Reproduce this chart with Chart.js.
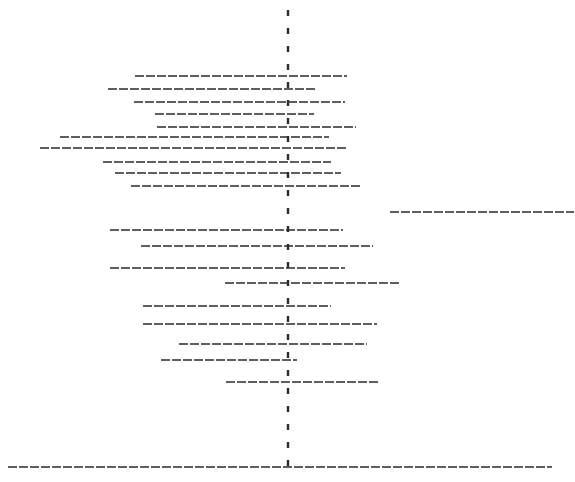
<!DOCTYPE html>
<html>
<head>
<meta charset="utf-8">
<script src="https://cdn.jsdelivr.net/npm/chart.js@4.4.1/dist/chart.umd.min.js"></script>
<style>
  html, body { margin: 0; padding: 0; background: #fff; }
  #wrap { width: 575px; height: 482px; position: relative; }
</style>
</head>
<body>
<div id="wrap"><canvas id="plot"></canvas></div>
<script>
// Row positions (top to bottom) and interval ends
const rowPos = [7.6, 8.9, 10.2, 11.4, 12.7, 13.7, 14.8, 16.2, 17.3, 18.6, 21.2, 23.0, 24.6, 26.8, 28.3, 30.6, 32.4, 34.4, 36.0, 38.2, 46.7];
const lowEnd = [-1.53, -1.80, -1.54, -1.33, -1.31, -2.28, -2.48, -1.85, -1.73, -1.57, 1.02, -1.78, -1.47, -1.78, -0.63, -1.45, -1.45, -1.09, -1.27, -0.62, -2.80];
const highEnd = [0.59, 0.28, 0.57, 0.26, 0.68, 0.41, 0.60, 0.43, 0.53, 0.72, 2.86, 0.55, 0.85, 0.57, 1.11, 0.43, 0.89, 0.79, 0.09, 0.92, 2.64];
const refValue = 0;
const refSpan = [1.0, 47.8];

(() => {
  "use strict";

  const INK = "#2b2b2b";

  const rows = rowPos.map((y, i) => ({
    data: [{ x: lowEnd[i], y }, { x: highEnd[i], y }],
    borderColor: INK,
    borderWidth: 1.7,
    borderDash: [9, 2],
    pointRadius: 0,
    showLine: true,
    fill: false,
  }));

  const refLine = {
    data: [{ x: refValue, y: refSpan[0] }, { x: refValue, y: refSpan[1] }],
    borderColor: INK,
    borderWidth: 2.4,
    borderDash: [6, 12],
    pointRadius: 0,
    showLine: true,
    fill: false,
  };

  new Chart(document.getElementById("plot"), {
    type: "scatter",
    data: { datasets: [refLine, ...rows] },
    options: {
      responsive: true,
      maintainAspectRatio: false,
      animation: false,
      layout: { padding: 0 },
      plugins: { legend: { display: false }, tooltip: { enabled: false } },
      scales: {
        x: { type: "linear", min: -2.88, max: 2.87, display: false },
        y: { type: "linear", min: 0, max: 48.2, reverse: true, display: false },
      },
    },
  });
})();
</script>
</body>
</html>
